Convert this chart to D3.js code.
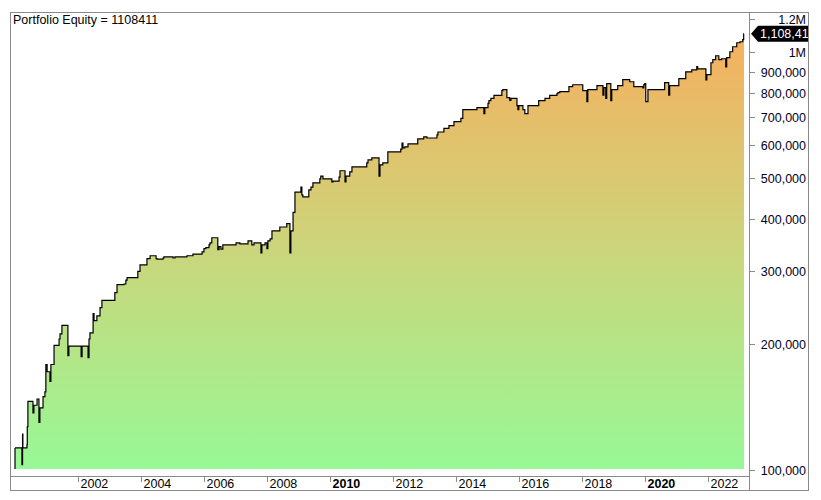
<!DOCTYPE html>
<html><head><meta charset="utf-8">
<script src="https://cdn.jsdelivr.net/npm/d3@7"></script>
<style>body{margin:0;background:#fff}svg{display:block}text{font-family:"Liberation Sans",Arial,sans-serif}</style>
</head><body>
<svg id="c" width="821" height="500"></svg>
<script>
const title = "Portfolio Equity = 1108411";
const lastLabel = "1,108,411";
const years = [2000.00,2000.22,2000.24,2000.25,2000.38,2000.39,2000.41,2000.57,2000.60,2000.70,2000.76,2000.79,2000.89,2000.95,2000.98,2001.02,2001.11,2001.14,2001.24,2001.40,2001.43,2001.49,2001.68,2001.71,2002.10,2002.13,2002.32,2002.35,2002.38,2002.48,2002.51,2002.60,2002.70,2002.76,2003.17,2003.24,2003.46,2003.52,2003.56,2003.90,2003.97,2004.19,2004.29,2004.48,2004.51,2004.70,2004.73,2005.02,2005.08,2005.46,2005.65,2005.94,2006.00,2006.06,2006.16,2006.19,2006.25,2006.38,2006.44,2006.48,2006.54,2006.60,2006.92,2007.02,2007.14,2007.40,2007.52,2007.59,2007.81,2007.84,2007.94,2008.00,2008.03,2008.10,2008.16,2008.35,2008.41,2008.63,2008.70,2008.73,2008.76,2008.83,2008.89,2009.02,2009.08,2009.11,2009.14,2009.30,2009.33,2009.40,2009.46,2009.65,2009.68,2009.71,2009.78,2010.03,2010.06,2010.10,2010.29,2010.32,2010.44,2010.48,2010.51,2010.60,2010.63,2010.70,2011.11,2011.17,2011.21,2011.33,2011.52,2011.56,2011.59,2011.68,2011.84,2012.25,2012.29,2012.32,2012.38,2012.48,2012.79,2012.98,2013.08,2013.40,2013.43,2013.62,2013.78,2013.94,2014.16,2014.22,2014.63,2014.67,2014.89,2014.92,2015.02,2015.05,2015.11,2015.21,2015.33,2015.46,2015.49,2015.62,2015.71,2015.75,2015.81,2015.94,2015.97,2016.00,2016.13,2016.19,2016.29,2016.41,2016.63,2016.83,2016.98,2017.21,2017.24,2017.30,2017.59,2017.71,2018.03,2018.16,2018.19,2018.29,2018.48,2018.67,2018.70,2018.76,2018.79,2018.92,2018.95,2019.14,2019.30,2019.52,2019.65,2019.94,2019.97,2020.00,2020.03,2020.10,2020.63,2020.76,2020.79,2021.08,2021.30,2021.49,2021.65,2021.68,2021.94,2021.97,2022.10,2022.16,2022.25,2022.35,2022.44,2022.57,2022.60,2022.70,2022.79,2022.92,2023.02,2023.11,2023.14,2023.15];
const equity = [113,103,122,113,115,127,146,137,143,148,130,141,150,154,179,172,163,179,199,206,212,222,188,198,187,198,186,206,213,237,228,234,245,255,266,278,279,285,289,299,310,321,326,321,320,322,324,322,324,326,329,333,339,341,346,350,360,360,337,343,338,346,346,350,348,354,346,350,331,346,350,339,354,358,374,374,382,389,389,331,374,414,463,463,476,456,451,451,469,476,487,487,498,506,498,498,490,492,503,521,521,490,506,506,518,532,532,544,553,559,559,506,538,544,578,587,607,591,594,604,621,628,624,635,645,658,668,683,695,730,730,738,714,738,755,767,776,789,789,810,815,780,768,776,776,746,730,746,730,714,746,746,767,776,789,797,801,806,828,837,810,763,815,815,833,790,824,776,842,767,815,833,861,851,828,823,838,842,763,815,847,790,833,866,899,909,925,914,860,885,945,961,982,961,966,924,972,1004,1032,1055,1061,1073,1108,1108].map(v=>v*1000);
const yTicks = [100000,200000,300000,400000,500000,600000,700000,800000,900000,1000000,1200000];
const yTickLabels = ["100,000","200,000","300,000","400,000","500,000","600,000","700,000","800,000","900,000","1M","1.2M"];
const xTicks = [2002,2004,2006,2008,2010,2012,2014,2016,2018,2020,2022];
const boldYears = [2010,2020];

const data = years.map((t,i)=>({t, v:equity[i]}));
const svg = d3.select("#c");
const x = d3.scaleLinear().domain([2000,2023.15]).range([15,744]);
const y = d3.scaleLog().domain([96800,1250000]).range([476,12]);

const defs = svg.append("defs");
const g = defs.append("linearGradient").attr("id","gr").attr("gradientUnits","userSpaceOnUse")
  .attr("x1",0).attr("x2",0).attr("y1",469).attr("y2",14);
g.append("stop").attr("offset",0).attr("stop-color","#98F896");
g.append("stop").attr("offset",0.5).attr("stop-color","#CDD47A");
g.append("stop").attr("offset",1).attr("stop-color","#FAAC5C");

const base = y(100000)-1;
svg.append("path").datum(data)
  .attr("d", d3.area().curve(d3.curveStepAfter).x(d=>x(d.t)).y0(base).y1(d=>y(d.v)))
  .attr("fill","url(#gr)");
svg.append("path").datum(data)
  .attr("d", d3.line().curve(d3.curveStepAfter).x(d=>x(d.t)).y(d=>y(d.v)))
  .attr("fill","none").attr("stroke","#000").attr("stroke-width",1.2);
// left vertical start line
svg.append("line").attr("x1",x(2000)).attr("x2",x(2000)).attr("y1",base).attr("y2",y(equity[0])).attr("stroke","#000").attr("stroke-width",1.2);

// frame
const gray="#8a8a8a";
svg.append("rect").attr("x",10.5).attr("y",12.5).attr("width",798).attr("height",478).attr("fill","none").attr("stroke",gray);
svg.append("line").attr("x1",749.5).attr("x2",749.5).attr("y1",12).attr("y2",491).attr("stroke",gray);
svg.append("line").attr("x1",10).attr("x2",749).attr("y1",476.5).attr("y2",476.5).attr("stroke",gray);

// y axis
const ya = svg.append("g");
yTicks.forEach((v,i)=>{
  const yy = Math.round(y(v))+0.5;
  ya.append("line").attr("x1",750).attr("x2",755).attr("y1",yy).attr("y2",yy).attr("stroke",gray);
  ya.append("text").attr("x",806).attr("y",yy+4.5).attr("text-anchor","end").attr("font-size",12.5).attr("fill","#000022").text(yTickLabels[i]);
});
// last value label
const ly = y(equity[equity.length-1]);
svg.append("path").attr("d",`M751,${ly} L758,${ly-8} L812,${ly-8} L812,${ly+8} L758,${ly+8} Z`).attr("fill","#000");
svg.append("text").attr("x",760).attr("y",ly+4.5).attr("font-size",12.5).attr("fill","#fff").text(lastLabel);
svg.append("rect").attr("x",809).attr("y",0).attr("width",12).attr("height",500).attr("fill","#fff");
svg.append("line").attr("x1",808.5).attr("x2",808.5).attr("y1",12).attr("y2",491).attr("stroke",gray);

// x axis
xTicks.forEach(t=>{
  const xx = Math.round(x(t))+0.5;
  svg.append("line").attr("x1",xx).attr("x2",xx).attr("y1",477).attr("y2",482).attr("stroke",gray);
  svg.append("text").attr("x",xx+2).attr("y",488).attr("font-size",12.5).attr("fill","#000")
    .attr("font-weight",boldYears.includes(t)?"bold":"normal").text(t);
});

svg.append("text").attr("x",13).attr("y",24).attr("font-size",12.5).attr("fill","#000").text(title);
</script>
</body></html>
